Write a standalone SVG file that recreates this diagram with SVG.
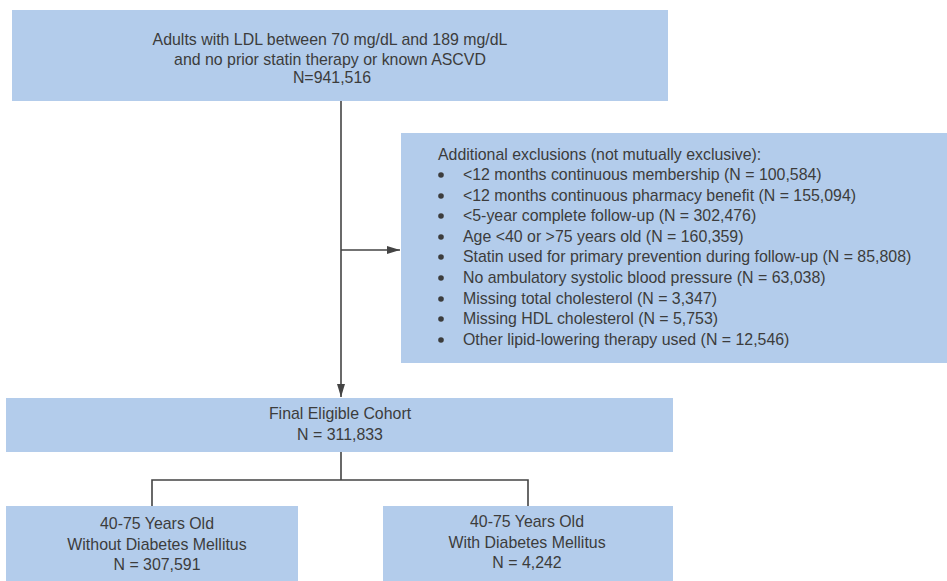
<svg xmlns="http://www.w3.org/2000/svg" width="947" height="581" viewBox="0 0 947 581">
<style>
.box{fill:#b3cceb;}
.t{font-family:"Liberation Sans",Arial,sans-serif;font-size:15.9px;fill:#3c3c3c;}
.c{text-anchor:middle;}
.ln{stroke:#444;stroke-width:1.6;fill:none;}
.b{fill:#3c3c3c;}
</style>
<defs>
<marker id="ah" markerWidth="13" markerHeight="8" refX="13" refY="4" orient="auto" markerUnits="userSpaceOnUse">
<path d="M0,0 L13,4 L0,8 Z" fill="#444"/>
</marker>
</defs>
<rect width="947" height="581" fill="#fff"/>
<g id="connectors">
<path class="ln" d="M341,101 V397" marker-end="url(#ah)"/>
<path class="ln" d="M341,250 H400" marker-end="url(#ah)"/>
<path class="ln" d="M341,452 V480 M152,507 V480 H528 V507"/>
</g>
<g id="n_start">
<rect class="box" x="12" y="10" width="656" height="91"/>
<text class="t c" x="330" y="45">Adults with LDL between 70 mg/dL and 189 mg/dL</text>
<text class="t c" x="330" y="65">and no prior statin therapy or known ASCVD</text>
<text class="t c" x="332" y="83">N=941,516</text>
</g>
<g id="n_excl">
<rect class="box" x="401" y="133" width="546" height="230"/>
<text class="t" x="438" y="160">Additional exclusions (not mutually exclusive):</text>
<g>
<circle class="b" cx="441" cy="175" r="2.8"/>
<circle class="b" cx="441" cy="196" r="2.8"/>
<circle class="b" cx="441" cy="216" r="2.8"/>
<circle class="b" cx="441" cy="237" r="2.8"/>
<circle class="b" cx="441" cy="257" r="2.8"/>
<circle class="b" cx="441" cy="278" r="2.8"/>
<circle class="b" cx="441" cy="299" r="2.8"/>
<circle class="b" cx="441" cy="319" r="2.8"/>
<circle class="b" cx="441" cy="340" r="2.8"/>
</g>
<text class="t" x="463" y="180">&lt;12 months continuous membership (N = 100,584)</text>
<text class="t" x="463" y="201">&lt;12 months continuous pharmacy benefit (N = 155,094)</text>
<text class="t" x="463" y="221">&lt;5-year complete follow-up (N = 302,476)</text>
<text class="t" x="463" y="242">Age &lt;40 or &gt;75 years old (N = 160,359)</text>
<text class="t" x="463" y="262">Statin used for primary prevention during follow-up (N = 85,808)</text>
<text class="t" x="463" y="283">No ambulatory systolic blood pressure (N = 63,038)</text>
<text class="t" x="463" y="304">Missing total cholesterol (N = 3,347)</text>
<text class="t" x="463" y="324">Missing HDL cholesterol (N = 5,753)</text>
<text class="t" x="463" y="345">Other lipid-lowering therapy used (N = 12,546)</text>
</g>
<g id="n_final">
<rect class="box" x="6" y="398" width="667" height="54"/>
<text class="t c" x="340" y="419">Final Eligible Cohort</text>
<text class="t c" x="340" y="440">N = 311,833</text>
</g>
<g id="n_nodm">
<rect class="box" x="6" y="506" width="292" height="75"/>
<text class="t c" x="157" y="529">40-75 Years Old</text>
<text class="t c" x="157" y="550">Without Diabetes Mellitus</text>
<text class="t c" x="157" y="570">N = 307,591</text>
</g>
<g id="n_dm">
<rect class="box" x="383" y="506" width="290" height="75"/>
<text class="t c" x="527" y="527">40-75 Years Old</text>
<text class="t c" x="527" y="548">With Diabetes Mellitus</text>
<text class="t c" x="527" y="568">N = 4,242</text>
</g>
</svg>
